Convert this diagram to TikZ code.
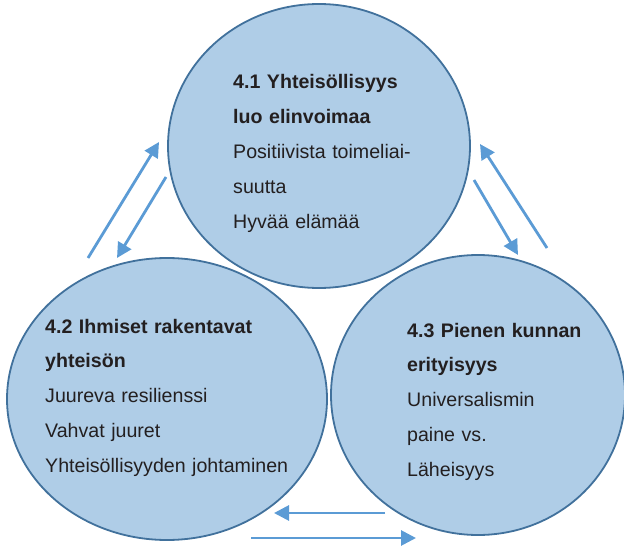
\documentclass[tikz,border=0pt]{standalone}
\usepackage{fontspec}
\setmainfont{Liberation Sans}
\usepackage{xcolor}
\usetikzlibrary{shapes.geometric,arrows.meta}

\begin{document}
\begin{tikzpicture}[x=1pt,y=-1pt,
  bubble/.style={ellipse,draw=rim,fill=bubblefill,line width=1.8pt,inner sep=0pt},
  blurb/.style={anchor=base west,inner sep=0pt,text width=290pt,align=left,text=ink,
    font=\fontsize{19.6}{34.8}\selectfont},
  flow/.style={draw=flowblue,line width=2.8pt,-{Triangle[length=15pt,width=15pt]}}]
\definecolor{rim}{HTML}{41719C} \definecolor{bubblefill}{HTML}{AFCDE7}
\definecolor{flowblue}{HTML}{5B9BD5} \definecolor{ink}{HTML}{231F20}
\useasboundingbox (0,0) rectangle (624,548);
\node (top) [bubble,minimum width=302pt,minimum height=284pt] at (319,146) {};
\node (left) [bubble,minimum width=320pt,minimum height=282pt] at (167,399) {};
\node (right) [bubble,minimum width=294pt,minimum height=280pt] at (478,395) {};
\node (topText) [blurb] at (233,89) {\textbf{4.1 Yhteisöllisyys}\\ \textbf{luo elinvoimaa}\\
  Positiivista toimeliai-\\ suutta\\ Hyvää elämää};
\node (leftText) [blurb] at (45,333) {\textbf{4.2 Ihmiset rakentavat}\\ \textbf{yhteisön}\\
  Juureva resilienssi\\ Vahvat juuret\\ Yhteisöllisyyden johtaminen};
\node (rightText) [blurb] at (407,337) {\textbf{4.3 Pienen kunnan}\\ \textbf{erityisyys}\\
  Universalismin\\ paine vs.\\ Läheisyys};
\coordinate (lu1) at (88,258);  \coordinate (lu2) at (159,142);
\coordinate (ld1) at (166,177); \coordinate (ld2) at (117,258);
\coordinate (ru1) at (547,248); \coordinate (ru2) at (480,144);
\coordinate (rd1) at (474,180); \coordinate (rd2) at (518,255);
\coordinate (bl1) at (385,513); \coordinate (bl2) at (274,513);
\coordinate (br1) at (251,538); \coordinate (br2) at (416,538);
\foreach \from/\to in {lu1/lu2,ld1/ld2,ru1/ru2,rd1/rd2,bl1/bl2,br1/br2}
\draw [flow] (\from) -- (\to);
\end{tikzpicture}
\end{document}
